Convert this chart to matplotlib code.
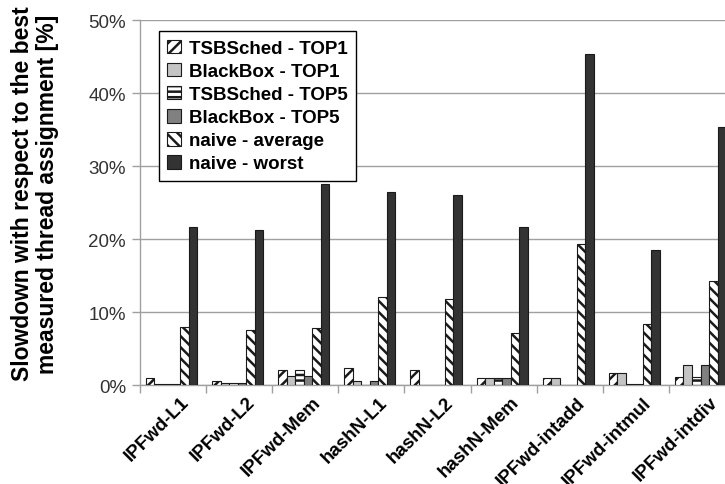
import matplotlib
matplotlib.use("Agg")
import matplotlib.pyplot as plt
import matplotlib.transforms as mtransforms
import numpy as np

# values (slowdown in %)
benchmarks = ["IPFwd-L1", "IPFwd-L2", "IPFwd-Mem", "hashN-L1", "hashN-L2",
              "hashN-Mem", "IPFwd-intadd", "IPFwd-intmul", "IPFwd-intdiv"]
tsb_top1 = [1.0, 0.5, 2.1, 2.4, 2.1, 1.0, 0.9, 1.7, 1.1]
bb_top1 = [0.1, 0.3, 1.3, 0.5, 0.0, 1.0, 0.9, 1.7, 2.8]
tsb_top5 = [0.1, 0.3, 2.0, 0.0, 0.0, 1.0, 0.0, 0.1, 1.1]
bb_top5 = [0.1, 0.3, 1.3, 0.5, 0.0, 1.0, 0.0, 0.1, 2.8]
naive_avg = [8.0, 7.6, 7.8, 12.0, 11.8, 7.1, 19.3, 8.4, 14.2]
naive_worst = [21.7, 21.2, 27.5, 26.4, 26.0, 21.6, 45.4, 18.5, 35.4]

series_labels = ["TSBSched - TOP1", "BlackBox - TOP1", "TSBSched - TOP5",
                 "BlackBox - TOP5", "naive - average", "naive - worst"]
yticks = [0, 10, 20, 30, 40, 50]

plt.rcParams["font.family"] = ["Liberation Sans", "DejaVu Sans"]
plt.rcParams["hatch.linewidth"] = 1.8

fig = plt.figure(figsize=(7.25, 4.85), dpi=100)
ax = fig.add_axes([0.193, 0.204, 0.821, 0.7526])

styles = [
    dict(facecolor="white", hatch="///"),
    dict(facecolor="#c4c4c4", hatch=None),
    dict(facecolor="white", hatch="---"),
    dict(facecolor="#808080", hatch=None),
    dict(facecolor="white", hatch="\\\\\\"),
    dict(facecolor="#333333", hatch=None),
]
series = [tsb_top1, bb_top1, tsb_top5, bb_top5, naive_avg, naive_worst]

x = np.arange(len(benchmarks))
bw = 0.129
for k, (vals, st, lab) in enumerate(zip(series, styles, series_labels)):
    ax.bar(x - 0.41 + k * bw, vals, width=bw, align="edge",
           facecolor=st["facecolor"], hatch=st["hatch"],
           edgecolor="#1a1a1a", linewidth=0.8, label=lab, zorder=3)

ax.set_xlim(-0.5, len(benchmarks) - 0.5)
ax.set_ylim(0, 50)
ax.set_yticks(yticks)
ax.set_yticklabels([f"{v}%" for v in yticks], fontsize=13.5, color="#333333")
ax.yaxis.grid(True, color="#a0a0a0", linewidth=1.0, zorder=0)
ax.tick_params(axis="y", length=6, color="#a0a0a0", width=1.0, pad=4)

ax.set_xticks(x)
ax.set_xticklabels(benchmarks, rotation=45, ha="right", rotation_mode="anchor",
                   fontsize=13.5, fontweight="bold")
ax.tick_params(axis="x", which="major", length=0, pad=6)
shift = mtransforms.ScaledTranslation(0.07, 0, fig.dpi_scale_trans)
for lbl in ax.get_xticklabels():
    lbl.set_transform(lbl.get_transform() + shift)
ax.set_xticks(np.arange(len(benchmarks) + 1) - 0.5, minor=True)
ax.tick_params(axis="x", which="minor", length=6, color="#a0a0a0", width=1.0)

for s in ["top", "right"]:
    ax.spines[s].set_visible(False)
for s in ["left", "bottom"]:
    ax.spines[s].set_color("#a0a0a0")
    ax.spines[s].set_linewidth(1.0)

leg = ax.legend(loc="upper left", bbox_to_anchor=(0.016, 0.995), frameon=True,
                fancybox=False, edgecolor="black", framealpha=1,
                prop={"weight": "bold", "size": 13.5},
                handlelength=0.75, handleheight=0.75, handletextpad=0.4,
                labelspacing=0.3, borderpad=0.45)
leg.get_frame().set_linewidth(1.0)

fig.text(0.048, 0.6, "Slowdown with respect to the best\nmeasured thread assignment [%]",
         rotation=90, ha="center", va="center", fontsize=16.5, fontweight="bold",
         linespacing=1.1)

fig.savefig("out.png", dpi=100)
